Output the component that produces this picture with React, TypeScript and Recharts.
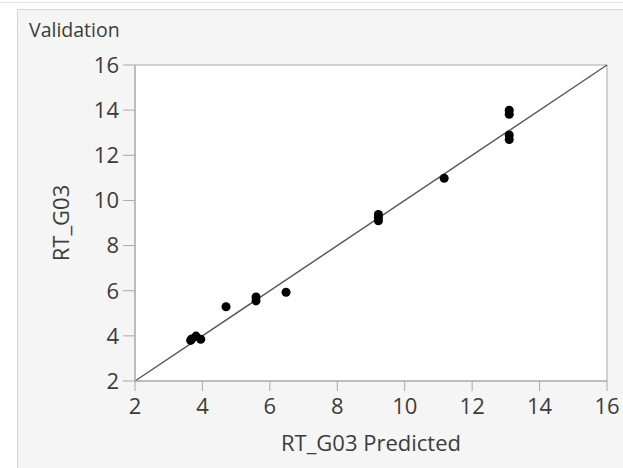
import React from 'react';
import { ScatterChart, Scatter, XAxis, YAxis, ZAxis, CartesianGrid, ReferenceLine, ReferenceArea, Label } from 'recharts';

// values
const predicted = [3.65, 3.68, 3.81, 3.95, 4.7, 5.59, 5.59, 6.48, 9.22, 9.22, 9.22, 11.17, 13.1, 13.1, 13.1, 13.1];
const actual = [3.8, 3.86, 3.99, 3.85, 5.29, 5.55, 5.72, 5.93, 9.1, 9.25, 9.38, 10.98, 12.7, 12.9, 13.82, 14.0];
const ticks = [2, 4, 6, 8, 10, 12, 14, 16];

const points = predicted.map((x, i) => ({ x, y: actual[i] }));

const font = '"Open Sans", "Noto Sans", sans-serif';
const textColor = '#3c3c3c';
const axisColor = '#a8a8a8';

export default function App() {
  return (
    <div style={{ position: 'fixed', left: 0, top: 0, width: 623, height: 468, background: '#fff', overflow: 'hidden', fontFamily: font }}>
      <div style={{ position: 'absolute', left: 0, top: 2, width: 623, height: 1, background: '#e2e2e2' }} />
      <div style={{ position: 'absolute', left: 17, top: 9, width: 620, height: 470, border: '1px solid #d6d6d6', background: '#f5f5f5' }} />
      <div style={{ position: 'absolute', left: 29, top: 16, fontSize: 19.5, color: textColor }}>Validation</div>
      <div style={{ position: 'absolute', left: 0, top: 0 }}>
        <ScatterChart width={623} height={468} margin={{ top: 65, right: 16, bottom: 30, left: 75 }}>
          <CartesianGrid horizontal={false} vertical={false} fill="#fff" />
          <XAxis
            type="number"
            dataKey="x"
            domain={[2, 16]}
            ticks={ticks}
            allowDataOverflow
            height={57}
            stroke={axisColor}
            tickSize={10}
            tickMargin={7}
            tick={{ fill: textColor, fontSize: 22, fontFamily: font }}
          >
            <Label value="RT_G03 Predicted" position="insideBottom" offset={-13} style={{ fill: textColor, fontSize: 22, fontFamily: font }} />
          </XAxis>
          <YAxis
            type="number"
            dataKey="y"
            domain={[2, 16]}
            ticks={ticks}
            allowDataOverflow
            width={60}
            stroke={axisColor}
            tickSize={12}
            tickMargin={4}
            tick={{ fill: textColor, fontSize: 22, fontFamily: font }}
          >
            <Label value="RT_G03" angle={-90} position="insideLeft" offset={-14} style={{ fill: textColor, fontSize: 22, fontFamily: font, textAnchor: 'middle' }} />
          </YAxis>
          <ZAxis range={[95, 95]} />
          <ReferenceArea x1={2} x2={16} y1={2} y2={16} fill="none" stroke={axisColor} strokeWidth={1} />
          <ReferenceLine segment={[{ x: 2, y: 2 }, { x: 16, y: 16 }]} stroke="#5a5a5a" strokeWidth={1.5} />
          <Scatter data={points} fill="#000" isAnimationActive={false} />
        </ScatterChart>
      </div>
    </div>
  );
}
